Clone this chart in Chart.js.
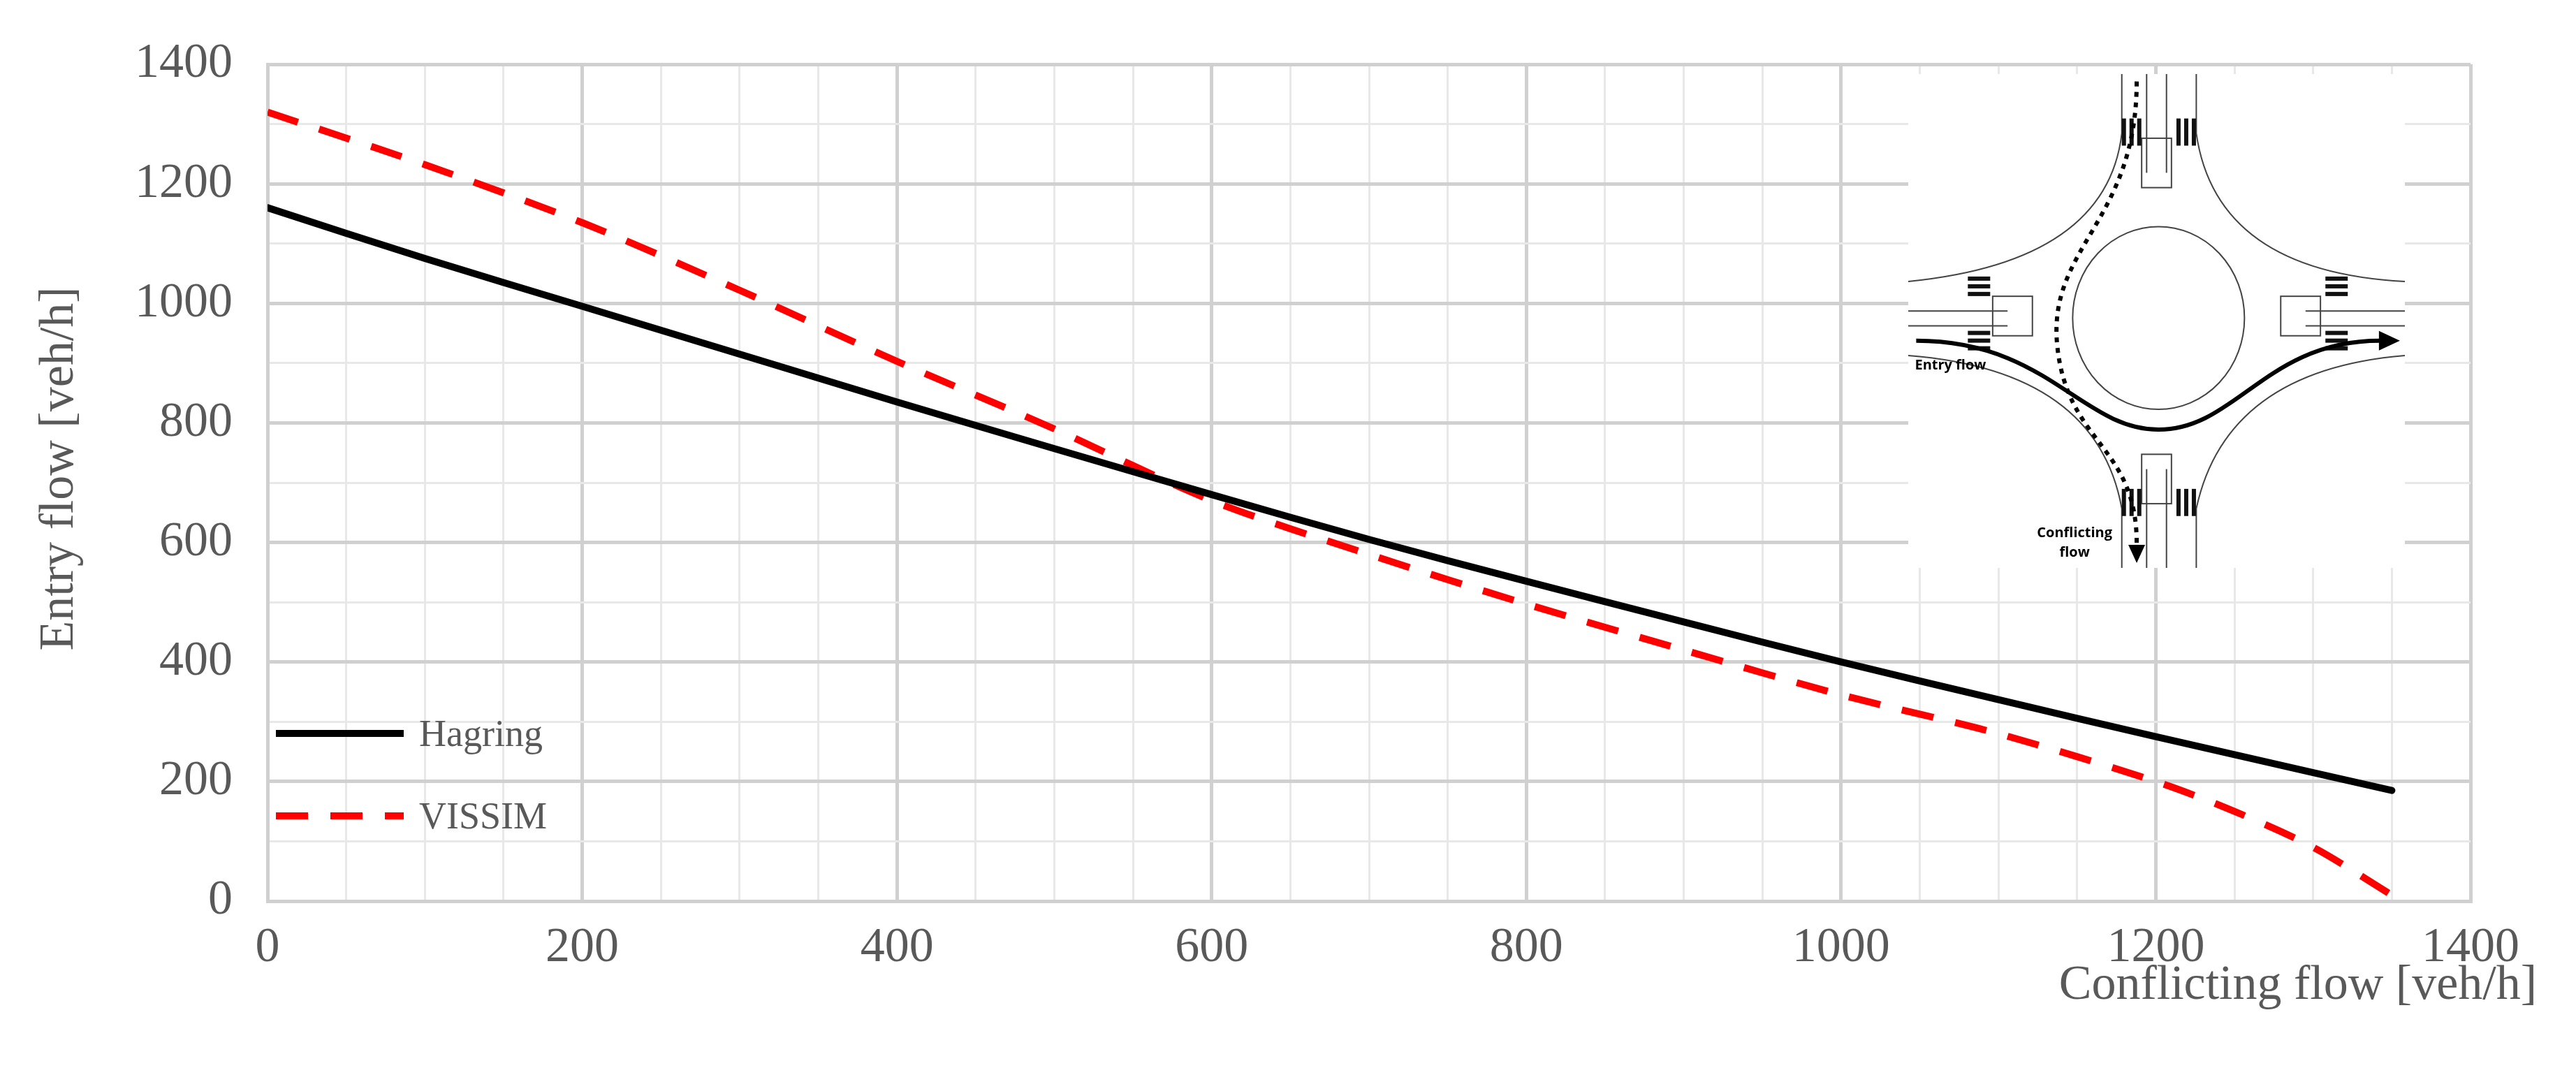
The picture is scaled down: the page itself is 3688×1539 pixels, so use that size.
<!DOCTYPE html>
<html>
<head>
<meta charset="utf-8">
<script src="https://cdn.jsdelivr.net/npm/chart.js@4/dist/chart.umd.min.js"></script>
<style>
  html, body { margin: 0; padding: 0; background: #fff; }
  #wrap { width: 3688px; height: 1539px; }
</style>
</head>
<body>
<div id="wrap"><canvas id="chart"></canvas></div>
<script>
// conflicting flow [veh/h] -> entry flow [veh/h]
var hagringX = [0, 100, 200, 300, 400, 500, 600, 700, 800, 900, 1000, 1100, 1200, 1300, 1350];
var hagringY = [1160, 1075, 995, 915, 835, 757, 680, 605, 535, 467, 400, 337, 275, 215, 185];
var vissimX = [0, 100, 200, 300, 400, 500, 600, 700, 800, 900, 1000, 1100, 1200, 1250, 1300, 1350];
var vissimY = [1320, 1232, 1135, 1022, 903, 790, 670, 580, 497, 420, 345, 280, 200, 150, 90, 10];
var xTicks = [0, 200, 400, 600, 800, 1000, 1200, 1400];
var yTicks = [0, 200, 400, 600, 800, 1000, 1200, 1400];

var serif = '"Liberation Serif", "DejaVu Serif", serif';
var grey = '#595959';

function pts(xs, ys) {
    return xs.map(function (x, i) { return { x: x, y: ys[i] }; });
}

// legend, axis titles and the roundabout inset drawn by hand
var extras = {
    id: 'extras',
    afterDraw: function (chart) {
        var ctx = chart.ctx;
        var area = chart.chartArea;
        ctx.save();
        // axis titles
        ctx.fillStyle = grey;
        ctx.font = '70px ' + serif;
        ctx.textAlign = 'right';
        ctx.textBaseline = 'middle';
        ctx.fillText('Conflicting flow [veh/h]', 3632, 1412);
        ctx.translate(86, (area.top + area.bottom) / 2 - 20);
        ctx.rotate(-Math.PI / 2);
        ctx.textAlign = 'center';
        ctx.fillText('Entry flow [veh/h]', 0, 0);
        ctx.restore();

        // legend
        ctx.save();
        chart.data.datasets.forEach(function (ds, i) {
            var y = 1050 + i * 118;
            ctx.strokeStyle = ds.borderColor;
            ctx.lineWidth = ds.borderWidth;
            ctx.setLineDash(ds.borderDash || []);
            ctx.beginPath();
            ctx.moveTo(395, y);
            ctx.lineTo(578, y);
            ctx.stroke();
            ctx.setLineDash([]);
            ctx.fillStyle = grey;
            ctx.font = '54px ' + serif;
            ctx.textAlign = 'left';
            ctx.textBaseline = 'middle';
            ctx.fillText(ds.label, 600, y + 4);
        });
        ctx.restore();

        drawInset(ctx, 2732, 106, 711, 707);
    }
};

function drawInset(ctx, bx, by, bw, bh) {
    function P(fx, fy) { return [bx + fx * bw, by + fy * bh]; }
    ctx.save();
    ctx.fillStyle = '#fff';
    ctx.fillRect(bx, by, bw, bh);
    ctx.strokeStyle = '#444';
    ctx.lineWidth = 2;
    // central island
    var c = P(0.504, 0.494);
    ctx.beginPath();
    ctx.ellipse(c[0], c[1], 0.173 * bw, 0.185 * bh, 0, 0, Math.PI * 2);
    ctx.stroke();
    // outer kerbs: four concave corners
    var corners = [
        [[0.43, 0], [0.43, 0.12], [0.40, 0.38], [0, 0.42]],
        [[0.58, 0], [0.58, 0.12], [0.62, 0.40], [1, 0.42]],
        [[0.43, 1], [0.43, 0.88], [0.38, 0.60], [0, 0.57]],
        [[0.58, 1], [0.58, 0.88], [0.64, 0.60], [1, 0.57]]
    ];
    corners.forEach(function (k) {
        var a = P(k[0][0], k[0][1]), b = P(k[1][0], k[1][1]), q = P(k[2][0], k[2][1]), d = P(k[3][0], k[3][1]);
        ctx.beginPath();
        ctx.moveTo(a[0], a[1]);
        ctx.lineTo(b[0], b[1]);
        ctx.quadraticCurveTo(q[0], q[1], d[0], d[1]);
        ctx.stroke();
    });
    // centre lines of the approaches
    [[[0.48, 0], [0.48, 0.2]], [[0.52, 0], [0.52, 0.2]], [[0.48, 1], [0.48, 0.8]], [[0.52, 1], [0.52, 0.8]],
     [[0, 0.48], [0.2, 0.48]], [[0, 0.51], [0.2, 0.51]], [[1, 0.48], [0.8, 0.48]], [[1, 0.51], [0.8, 0.51]]].forEach(function (s) {
        var a = P(s[0][0], s[0][1]), b = P(s[1][0], s[1][1]);
        ctx.beginPath(); ctx.moveTo(a[0], a[1]); ctx.lineTo(b[0], b[1]); ctx.stroke();
    });
    // splitter islands
    [[0.47, 0.13, 0.06, 0.1], [0.47, 0.77, 0.06, 0.1], [0.17, 0.45, 0.08, 0.08], [0.75, 0.45, 0.08, 0.08]].forEach(function (r) {
        var a = P(r[0], r[1]);
        ctx.strokeRect(a[0], a[1], r[2] * bw, r[3] * bh);
    });
    // crosswalks
    ctx.fillStyle = '#111';
    [[0.43, 0.09], [0.54, 0.09], [0.43, 0.84], [0.54, 0.84]].forEach(function (p) {
        var a = P(p[0], p[1]);
        for (var i = 0; i < 3; i++) ctx.fillRect(a[0] + i * 11, a[1], 6, 0.055 * bh);
    });
    [[0.12, 0.41], [0.12, 0.52], [0.84, 0.41], [0.84, 0.52]].forEach(function (p) {
        var a = P(p[0], p[1]);
        for (var i = 0; i < 3; i++) ctx.fillRect(a[0], a[1] + i * 11, 0.045 * bw, 6);
    });
    // entry flow (solid arrow)
    ctx.strokeStyle = '#000';
    ctx.lineWidth = 6;
    var s0 = P(0.016, 0.54), s1 = P(0.28, 0.54), s2 = P(0.35, 0.72), s3 = P(0.504, 0.72);
    var s4 = P(0.66, 0.72), s5 = P(0.72, 0.54), s6 = P(0.95, 0.54);
    ctx.beginPath();
    ctx.moveTo(s0[0], s0[1]);
    ctx.bezierCurveTo(s1[0], s1[1], s2[0], s2[1], s3[0], s3[1]);
    ctx.bezierCurveTo(s4[0], s4[1], s5[0], s5[1], s6[0], s6[1]);
    ctx.stroke();
    var ah = P(0.99, 0.54);
    ctx.fillStyle = '#000';
    ctx.beginPath();
    ctx.moveTo(ah[0], ah[1]);
    ctx.lineTo(ah[0] - 30, ah[1] - 14);
    ctx.lineTo(ah[0] - 30, ah[1] + 14);
    ctx.fill();
    // conflicting flow (dotted arrow)
    ctx.setLineDash([7, 8]);
    var d0 = P(0.46, 0.015), d1 = P(0.46, 0.3), d2 = P(0.28, 0.35), d3 = P(0.30, 0.55);
    var d4 = P(0.32, 0.75), d5 = P(0.46, 0.75), d6 = P(0.46, 0.95);
    ctx.beginPath();
    ctx.moveTo(d0[0], d0[1]);
    ctx.bezierCurveTo(d1[0], d1[1], d2[0], d2[1], d3[0], d3[1]);
    ctx.bezierCurveTo(d4[0], d4[1], d5[0], d5[1], d6[0], d6[1]);
    ctx.stroke();
    ctx.setLineDash([]);
    var dh = P(0.46, 0.99);
    ctx.beginPath();
    ctx.moveTo(dh[0], dh[1]);
    ctx.lineTo(dh[0] - 12, dh[1] - 26);
    ctx.lineTo(dh[0] + 12, dh[1] - 26);
    ctx.fill();
    // labels
    ctx.font = 'bold 20px "Open Sans", sans-serif';
    ctx.textAlign = 'center';
    ctx.textBaseline = 'middle';
    var l1 = P(0.085, 0.59), l2 = P(0.335, 0.93), l3 = P(0.335, 0.97);
    ctx.fillText('Entry flow', l1[0], l1[1]);
    ctx.fillText('Conflicting', l2[0], l2[1]);
    ctx.fillText('flow', l3[0], l3[1]);
    ctx.restore();
}

var ctx = document.getElementById('chart').getContext('2d');
new Chart(ctx, {
    type: 'scatter',
    data: {
        datasets: [{
            label: 'Hagring',
            data: pts(hagringX, hagringY),
            showLine: true,
            borderColor: '#000000',
            borderWidth: 10,
            pointRadius: 0,
            tension: 0.3,
            borderCapStyle: 'round'
        }, {
            label: 'VISSIM',
            data: pts(vissimX, vissimY),
            showLine: true,
            borderColor: '#ff0000',
            borderWidth: 10,
            borderDash: [46, 32],
            pointRadius: 0,
            tension: 0.3
        }]
    },
    options: {
        responsive: true,
        maintainAspectRatio: false,
        animation: false,
        layout: { padding: { top: 68, right: 151, left: 0, bottom: 0 } },
        plugins: { legend: { display: false }, tooltip: { enabled: false } },
        scales: {
            x: {
                type: 'linear', min: 0, max: 1400,
                afterBuildTicks: function (axis) {
                    var t = [];
                    for (var v = 0; v <= 1400; v += 50) t.push({ value: v });
                    axis.ticks = t;
                },
                afterFit: function (axis) { axis.height = 249; },
                grid: {
                    color: function (c) { return c.tick.value % 200 === 0 ? '#d0d0d0' : '#e8e8e8'; },
                    lineWidth: function (c) { return c.tick.value % 200 === 0 ? 5 : 3; },
                    drawTicks: false
                },
                border: { color: '#d0d0d0', width: 5 },
                ticks: {
                    autoSkip: false, maxRotation: 0, padding: 26,
                    color: grey, font: { family: serif, size: 70 },
                    callback: function (v) { return xTicks.indexOf(v) >= 0 ? v : ''; }
                }
            },
            y: {
                type: 'linear', min: 0, max: 1400,
                afterBuildTicks: function (axis) {
                    var t = [];
                    for (var v = 0; v <= 1400; v += 100) t.push({ value: v });
                    axis.ticks = t;
                },
                afterFit: function (axis) { axis.width = 383; },
                grid: {
                    color: function (c) { return c.tick.value % 200 === 0 ? '#d0d0d0' : '#e8e8e8'; },
                    lineWidth: function (c) { return c.tick.value % 200 === 0 ? 5 : 3; },
                    drawTicks: false
                },
                border: { color: '#d0d0d0', width: 5 },
                ticks: {
                    autoSkip: false, padding: 50,
                    color: grey, font: { family: serif, size: 70 },
                    callback: function (v) { return yTicks.indexOf(v) >= 0 ? v : ''; }
                }
            }
        }
    },
    plugins: [extras]
});
</script>
</body>
</html>
